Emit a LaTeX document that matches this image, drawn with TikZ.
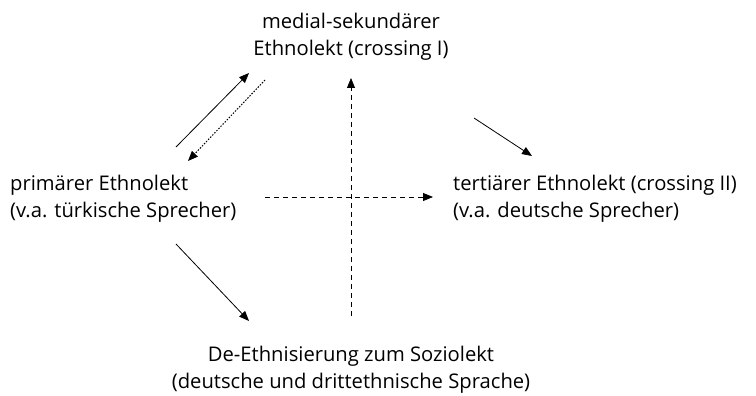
\documentclass[tikz,border=0pt]{standalone}
\usepackage{fontspec}
\setmainfont{Open Sans}
\usetikzlibrary{arrows.meta}
\begin{document}
\begin{tikzpicture}[x=1pt,y=-1pt,
  lbl/.style={inner sep=0pt,font=\fontsize{20.2}{27}\selectfont,align=left},
  clbl/.style={inner sep=0pt,font=\fontsize{20.2}{27}\selectfont,align=center},
  tip/.style={-{Triangle[length=10pt,width=8pt]}},
  solidarr/.style={tip,line width=0.8pt},
  dasharr/.style={tip,line width=0.8pt,dash pattern=on 5pt off 4pt},
  dotarr/.style={tip,line width=1pt,dash pattern=on 1.5pt off 1.5pt}]
\useasboundingbox (0,0) rectangle (756,396);
\node[clbl] (top) at (351,36.5) {medial-sekundärer\\Ethnolekt (crossing I)};
\node[lbl,anchor=west] (left) at (10,198.5) {primärer Ethnolekt\\(v.a. türkische Sprecher)};
\node[lbl,anchor=west] (right) at (453,198.5) {tertiärer Ethnolekt (crossing II)\\(v.a. deutsche Sprecher)};
\node[clbl] (bottom) at (351,369.5) {De-Ethnisierung zum Soziolekt\\(deutsche und drittethnische Sprache)};
\coordinate (a1s) at (176,147); \coordinate (a1e) at (249,73);
\coordinate (a2s) at (265,80);  \coordinate (a2e) at (188,161);
\coordinate (a3s) at (474,118); \coordinate (a3e) at (532,156);
\coordinate (a4s) at (176,244); \coordinate (a4e) at (249,321);
\coordinate (vs) at (351,316);  \coordinate (ve) at (351,78);
\coordinate (hs) at (265,197);  \coordinate (he) at (433,197);
\draw[solidarr] (a1s) -- (a1e);
\draw[dotarr] (a2s) -- (a2e);
\draw[solidarr] (a3s) -- (a3e);
\draw[solidarr] (a4s) -- (a4e);
\draw[dasharr] (vs) -- (ve);
\draw[dasharr] (hs) -- (he);
\end{tikzpicture}
\end{document}
